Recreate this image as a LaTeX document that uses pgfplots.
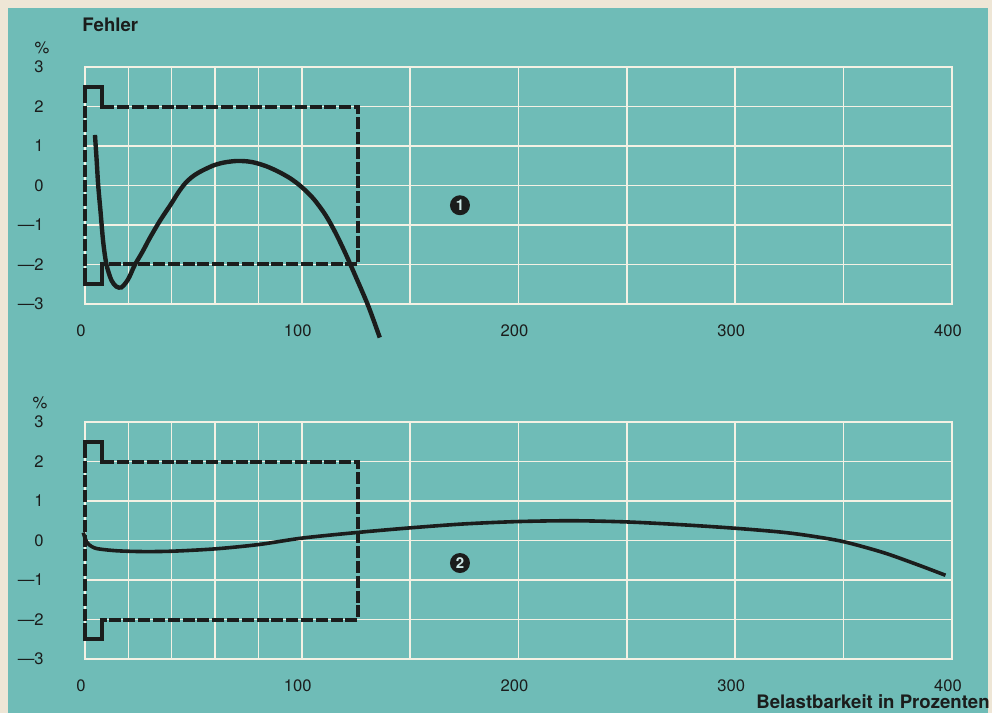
\documentclass[border=0pt]{standalone}
\usepackage{fontspec}
\setmainfont{TeX Gyre Heros}
\usepackage{pgfplots}
\pgfplotsset{compat=1.18}
\definecolor{bgteal}{HTML}{6FBCB7}
\definecolor{paper}{HTML}{EEE6D6}
\definecolor{gridw}{HTML}{F4F1E4}
\definecolor{ink}{HTML}{1B1D1C}

\pgfplotsset{
  panel/.style={
    scale only axis, width=433.5pt, height=118.5pt, anchor=south west,
    xmin=0, xmax=400, ymin=-3, ymax=3,
    xtick={0,100,200,300,400}, xticklabels={0,100,200,300,400},
    minor xtick={20,40,60,80,150,250,350},
    ytick={-3,-2,-1,0,1,2,3},
    yticklabels={\textemdash3,\textemdash2,\textemdash1,0,1,2,3},
    grid=both,
    major grid style={gridw,line width=0.8pt},
    minor grid style={gridw,line width=0.8pt},
    axis line style={gridw,line width=0.8pt},
    major tick length=0pt, minor tick length=0pt,
    /pgf/number format/assume math mode=true,
    tick label style={font=\fontsize{8.3}{10}\selectfont, text=ink},
    xticklabel style={anchor=center, yshift=-13.5pt, xshift=-2pt},
    yticklabel style={anchor=east, inner sep=0pt, xshift=-20.5pt},
    clip=false,
  },
}
\tikzset{
  tolbox/.style={ink, line width=2pt, dash pattern=on 6pt off 1.4pt, line join=miter},
  tolstep/.style={ink, line width=2pt, line join=miter},
  num/.style={circle, fill=ink, inner sep=0pt, minimum size=10pt,
    text=bgteal!35!white, font=\bfseries\fontsize{7.5}{7.5}\selectfont},
  lbl/.style={text=ink, font=\fontsize{8.3}{10}\selectfont},
}

\begin{document}
\begin{tikzpicture}
  \useasboundingbox (0,0) rectangle (496pt,356.5pt);
  \fill[paper] (0,0) rectangle (496pt,356.5pt);
  \fill[bgteal] (4pt,0) rectangle (494pt,352.5pt);

  % upper panel
  \begin{axis}[panel, at={(42.5pt,204.5pt)}]
    \addplot[tolbox] coordinates {(8,2) (126,2) (126,-2) (8,-2) (8,-2.5) (0,-2.5) (0,2.5) (8,2.5) (8,2)};
    \addplot[tolstep] coordinates {(0,2.2) (0,2.5) (8,2.5) (8,2) (10,2)};
    \addplot[tolstep] coordinates {(0,-2.2) (0,-2.5) (8,-2.5) (8,-2) (10,-2)};
    \addplot[ink, line width=2.2pt, smooth] coordinates {
      (4.6,1.28) (5.4,0.62) (6.1,0.0) (7.2,-0.68) (8.4,-1.43) (9.9,-2.0)
      (12.2,-2.4) (14.5,-2.56) (16.8,-2.58) (19,-2.45) (20.6,-2.3) (22.9,-2.02)
      (26.5,-1.68) (29.9,-1.33) (34.5,-0.9) (39.8,-0.46) (43,-0.18) (46,0.04)
      (49,0.2) (52.5,0.33) (58.9,0.5) (64,0.58) (69.7,0.62) (75,0.61) (78.9,0.57)
      (84,0.48) (89.6,0.34) (95,0.17) (100,-0.04) (105.5,-0.34) (111,-0.75)
      (115.6,-1.2) (120,-1.7) (124.6,-2.27) (130.7,-3.05) (136,-3.85)};
    \node[num] at (axis cs:173,-0.5) {1};
    \node[lbl] at (rel axis cs:0,1) [xshift=-21.5pt, yshift=9.5pt] {\%};
    \node[anchor=west, inner sep=0pt, text=ink, font=\bfseries\fontsize{9.3}{11}\selectfont]
      at (rel axis cs:0,1) [xshift=-1.5pt, yshift=21pt] {Fehler};
  \end{axis}

  % lower panel
  \begin{axis}[panel, at={(42.5pt,27pt)}]
    \addplot[tolbox] coordinates {(8,2) (126,2) (126,-2) (8,-2) (8,-2.5) (0,-2.5) (0,2.5) (8,2.5) (8,2)};
    \addplot[tolstep] coordinates {(0,2.2) (0,2.5) (8,2.5) (8,2) (10,2)};
    \addplot[tolstep] coordinates {(0,-2.2) (0,-2.5) (8,-2.5) (8,-2) (10,-2)};
    \addplot[ink, line width=1.8pt, smooth] coordinates {
      (-0.8,0.2) (0.8,-0.04) (3,-0.15) (6,-0.21) (14.6,-0.26) (26.8,-0.28)
      (40.6,-0.27) (60.5,-0.21) (80.5,-0.1) (100,0.06) (125,0.2) (150,0.32)
      (175,0.42) (200,0.48) (225,0.5) (250,0.47) (275,0.4) (300,0.31)
      (321.6,0.21) (335.5,0.11) (350,-0.03) (368,-0.3) (383,-0.59) (397,-0.88)};
    \node[num] at (axis cs:173,-0.57) {2};
    \node[lbl] at (rel axis cs:0,1) [xshift=-22.5pt, yshift=9.5pt] {\%};
  \end{axis}

  \node[anchor=east, inner sep=0pt, text=ink, font=\bfseries\fontsize{9.3}{11}\selectfont]
    at (495pt,5.5pt) {Belastbarkeit in Prozenten};
\end{tikzpicture}
\end{document}
